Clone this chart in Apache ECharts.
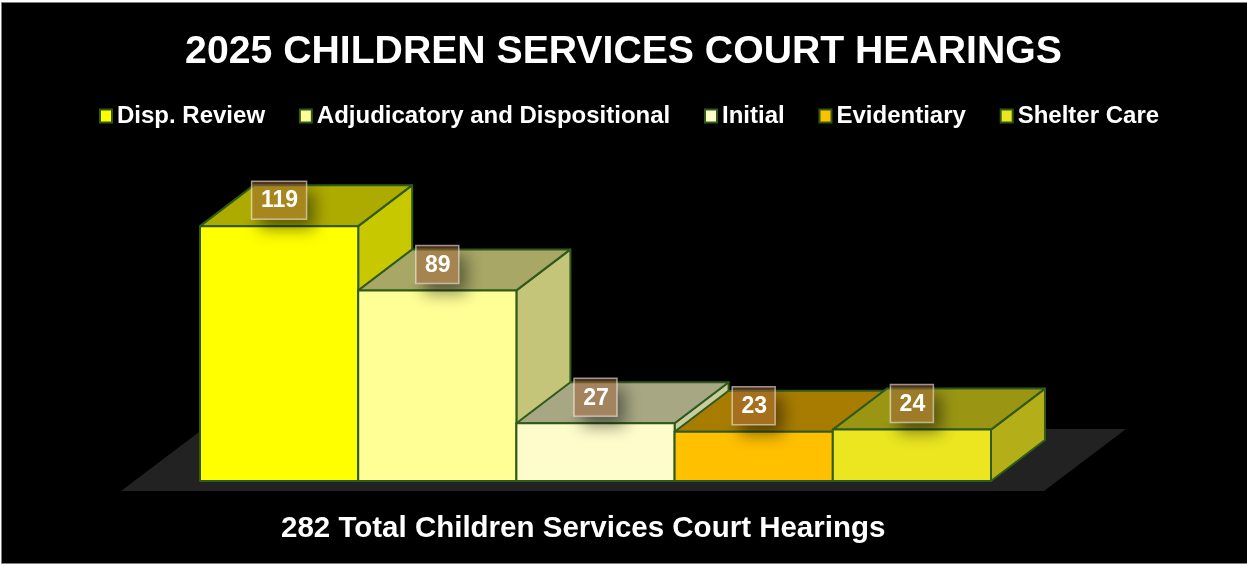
<!DOCTYPE html>
<html>
<head>
<meta charset="utf-8">
<title>2025 Children Services Court Hearings</title>
<script src="https://cdn.jsdelivr.net/npm/echarts@6/dist/echarts.min.js"></script>
<style>
  html, body {margin: 0; padding: 0; background: #fff;}
  #chart {width: 1247px; height: 564px;}
</style>
</head>
<body>
<div id="chart"></div>
<script>
// chart values
var categories = ['Disp. Review', 'Adjudicatory and Dispositional', 'Initial', 'Evidentiary', 'Shelter Care'];
var hearings = [119, 89, 27, 23, 24];

// face colours of each bar: front, top, side
var frontColors = ['#FFFF00', '#FFFF96', '#FEFCCB', '#FFC000', '#EBE620'];
var topColors = ['#ADAA00', '#A8A766', '#A7A784', '#A87C00', '#9A9614'];
var sideColors = ['#C8C800', '#C4C578', '#C8CCA0', '#C49200', '#B4AE18'];

var edgeColor = '#2F5A1A';
var fontName = '"Liberation Sans", Arial, sans-serif';
var depthX = 54;  // 3d offset of the back face
var depthY = -41;

function renderBar(params, api) {
  var i = params.seriesIndex;
  var top = api.coord([api.value(0), api.value(1)]);
  var base = api.coord([api.value(0), 0]);
  var w = api.size([1, 0])[0];
  var x0 = top[0] - w / 2, x1 = top[0] + w / 2;
  var y0 = top[1], y1 = base[1];
  var txt = String(api.value(1));
  var boxW = 19 + 12 * txt.length, boxH = 38;
  var bx0 = top[0] - boxW / 2, bx1 = bx0 + boxW;
  var by0 = y0 - 26 - boxH / 2, by1 = by0 + boxH;
  var edge = {stroke: edgeColor, lineWidth: 2, lineJoin: 'round'};

  return {
    type: 'group',
    children: [
      {
        type: 'polygon',
        shape: {points: [[x1, y0], [x1 + depthX, y0 + depthY], [x1 + depthX, y1 + depthY], [x1, y1]]},
        style: Object.assign({fill: sideColors[i]}, edge)
      },
      {
        type: 'polygon',
        shape: {points: [[x0, y0], [x0 + depthX, y0 + depthY], [x1 + depthX, y0 + depthY], [x1, y0]]},
        style: Object.assign({fill: topColors[i]}, edge)
      },
      {
        type: 'rect',
        shape: {x: x0, y: y0, width: w, height: y1 - y0},
        style: Object.assign({fill: frontColors[i]}, edge)
      },
      // badge shadow, clipped so it only shows outside the see-through badge
      {
        type: 'rect',
        shape: {x: bx0, y: by0, width: boxW, height: boxH},
        style: {
          fill: '#000',
          shadowBlur: 16,
          shadowColor: 'rgba(0,0,0,0.45)',
          shadowOffsetX: 8,
          shadowOffsetY: 10
        },
        clipPath: {
          type: 'polygon',
          shape: {points: [[bx0 - 20, by1], [bx1, by1], [bx1, by0 - 20], [bx1 + 50, by0 - 20], [bx1 + 50, by1 + 50], [bx0 - 20, by1 + 50]]}
        }
      },
      {
        type: 'rect',
        shape: {x: bx0, y: by0, width: boxW, height: boxH},
        style: {
          fill: 'rgba(162,97,58,0.5)',
          stroke: 'rgba(255,255,255,0.55)',
          lineWidth: 1.5
        }
      },
      {
        type: 'text',
        style: {
          text: txt,
          x: top[0] + 0.5,
          y: y0 - 25,
          fill: '#fff',
          font: 'bold 23px ' + fontName,
          align: 'center',
          verticalAlign: 'middle'
        }
      }
    ]
  };
}

var seriesList = categories.map(function (name, i) {
  return {
    name: name,
    type: 'custom',
    renderItem: renderBar,
    silent: true,
    itemStyle: {color: frontColors[i]},
    encode: {x: 0, y: 1},
    data: [[name, hearings[i]]]
  };
});

var chart = echarts.init(document.getElementById('chart'));
chart.setOption({
  animation: false,
  backgroundColor: 'transparent',
  textStyle: {fontFamily: fontName},
  title: [
    {
      text: '2025 CHILDREN SERVICES COURT HEARINGS',
      left: 'center',
      top: 28,
      textStyle: {color: '#fff', fontSize: 39.2, fontWeight: 'bold', fontFamily: fontName}
    },
    {
      text: '282 Total Children Services Court Hearings',
      left: 276,
      top: 509,
      textStyle: {color: '#fff', fontSize: 29.5, fontWeight: 'bold', fontFamily: fontName}
    }
  ],
  legend: {
    left: 99,
    top: 104,
    padding: 0,
    icon: 'rect',
    itemWidth: 12,
    itemHeight: 13,
    itemGap: 33.8,
    selectedMode: false,
    itemStyle: {borderColor: edgeColor, borderWidth: 2},
    textStyle: {color: '#fff', fontSize: 24, fontWeight: 'bold', fontFamily: fontName},
    data: categories
  },
  grid: {left: 200, width: 791, bottom: 83, height: 257},
  xAxis: {type: 'category', data: categories, show: false},
  yAxis: {type: 'value', min: 0, max: 120, show: false},
  graphic: [
    {
      type: 'rect',
      z: -10,
      shape: {x: 1.5, y: 2.5, width: 1250, height: 561},
      style: {fill: '#000', stroke: '#7F7F7F', lineWidth: 1}
    },
    {
      // floor
      type: 'polygon',
      z: -9,
      shape: {points: [[121, 491], [1044, 491], [1126, 429], [203, 429]]},
      style: {fill: '#222'}
    }
  ],
  series: seriesList
});
</script>
</body>
</html>
